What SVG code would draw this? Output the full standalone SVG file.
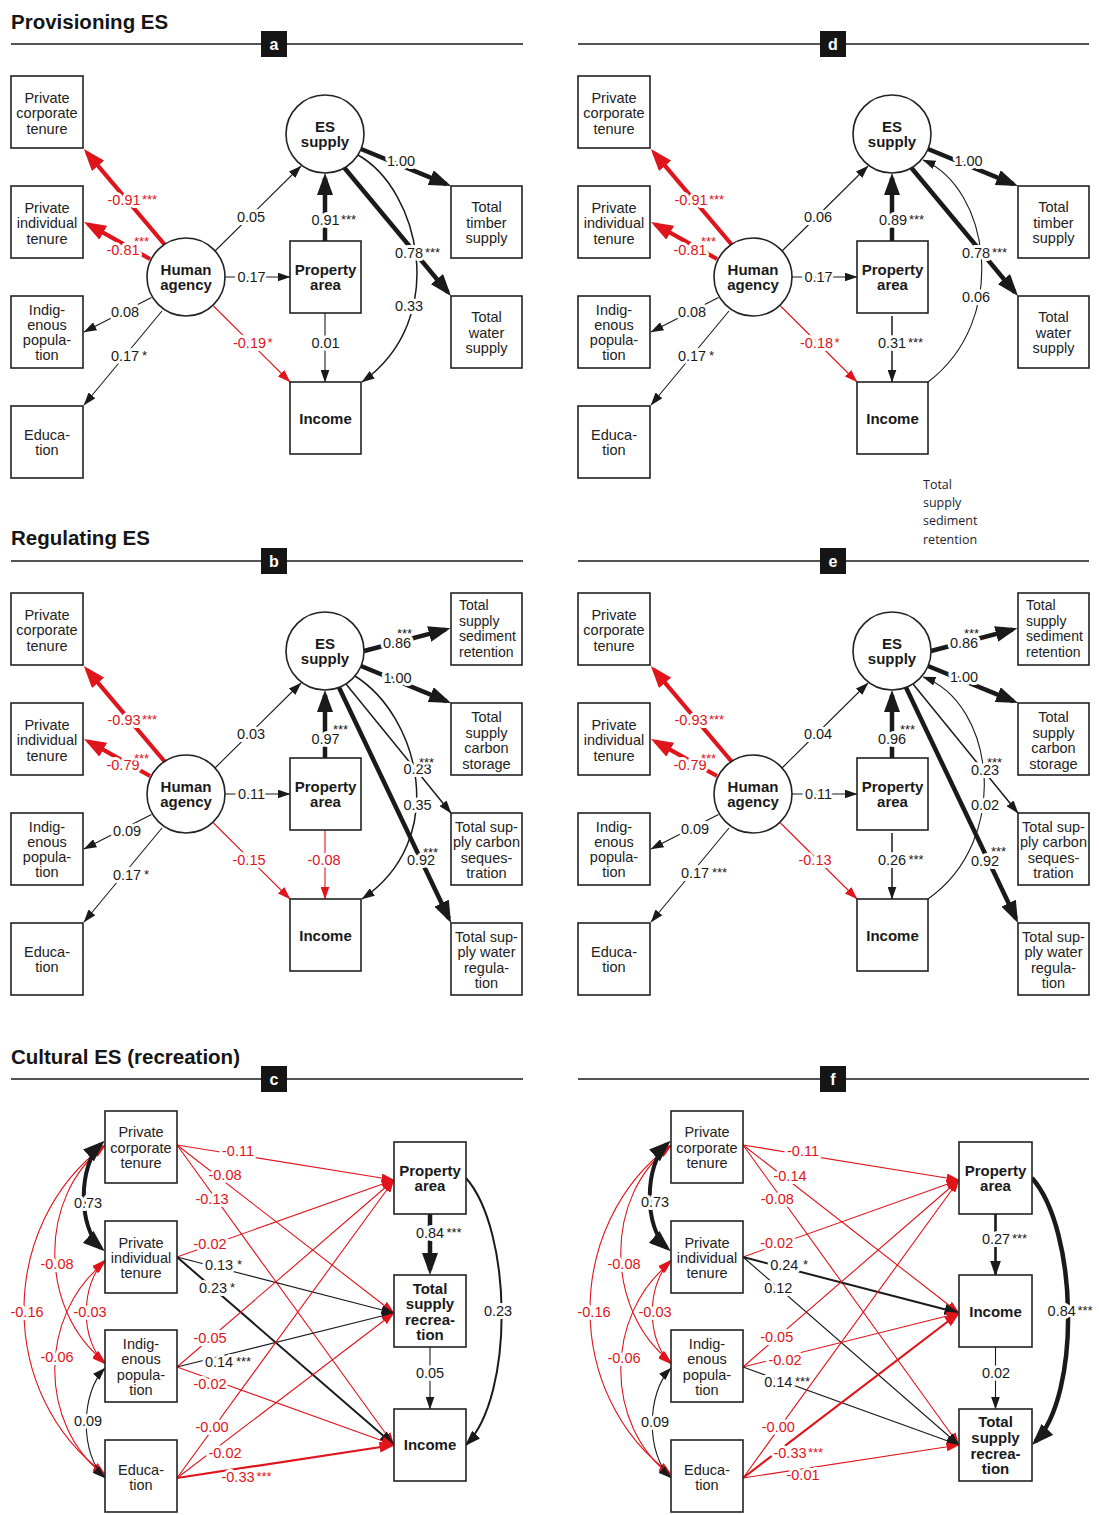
<svg xmlns="http://www.w3.org/2000/svg" width="1099" height="1515" viewBox="0 0 1099 1515">
<defs>
<style>
text{font-family:"Liberation Sans",Arial,Helvetica,sans-serif}
.ttl{font-size:20.5px;font-weight:bold;fill:#151515}
.hl{stroke:#1a1a1a;stroke-width:1.6}
.hb{fill:#151515}
.ht{font-size:16px;font-weight:bold;fill:#fff;text-anchor:middle}
.bx{fill:#fff;stroke:#222;stroke-width:1.6}
.t{font-size:14.5px;fill:#222;text-anchor:middle}
.ts{font-size:14px;fill:#222}
.tb{font-size:15px;font-weight:bold;fill:#1a1a1a;text-anchor:middle}
.l,.lr{font-size:14.5px;text-anchor:middle;stroke:#fff;stroke-width:6;stroke-linejoin:round;paint-order:stroke}
.l{fill:#1a1a1a}
.lr{fill:#e0141b}
.s{font-size:13px;text-anchor:start;stroke-width:4}
.nv{font-family:"Open Sans","Noto Sans",sans-serif;font-size:12.5px;fill:#1c1c2e}
.c1,.c15,.c2,.c25,.c4,.r1,.r2,.r4,.a1,.ar,.a4{fill:none}
.c1{stroke:#1a1a1a;stroke-width:1.1;marker-end:url(#mk1)}
.c15{stroke:#1a1a1a;stroke-width:1.5;marker-end:url(#mk1)}
.c2{stroke:#1a1a1a;stroke-width:2;marker-end:url(#mk2)}
.c25{stroke:#1a1a1a;stroke-width:2.6;marker-end:url(#mk2)}
.c4{stroke:#1a1a1a;stroke-width:4.5;marker-end:url(#mk3)}
.r1{stroke:#e0141b;stroke-width:1.1;marker-end:url(#mr1)}
.r2{stroke:#e0141b;stroke-width:2.2;marker-end:url(#mr2)}
.r4{stroke:#e0141b;stroke-width:4.2;marker-end:url(#mr3)}
.a1{stroke:#1a1a1a;stroke-width:1.1;marker-start:url(#mk1);marker-end:url(#mk1)}
.ar{stroke:#e0141b;stroke-width:1.1;marker-start:url(#mr1);marker-end:url(#mr1)}
.a4{stroke:#1a1a1a;stroke-width:4;marker-start:url(#mk3);marker-end:url(#mk3)}
</style>
<marker id="mk1" markerUnits="userSpaceOnUse" markerWidth="13" markerHeight="9" refX="12.5" refY="4.5" orient="auto-start-reverse"><path d="M0,0L13,4.5L0,9z" fill="#1a1a1a"/></marker>
<marker id="mk2" markerUnits="userSpaceOnUse" markerWidth="16" markerHeight="11" refX="14.5" refY="5.5" orient="auto-start-reverse"><path d="M0,0L16,5.5L0,11z" fill="#1a1a1a"/></marker>
<marker id="mk3" markerUnits="userSpaceOnUse" markerWidth="22" markerHeight="16" refX="17" refY="8" orient="auto-start-reverse"><path d="M0,0L22,8L0,16z" fill="#1a1a1a"/></marker>
<marker id="mr1" markerUnits="userSpaceOnUse" markerWidth="13" markerHeight="9" refX="12.5" refY="4.5" orient="auto-start-reverse"><path d="M0,0L13,4.5L0,9z" fill="#e0141b"/></marker>
<marker id="mr2" markerUnits="userSpaceOnUse" markerWidth="16" markerHeight="11" refX="14.5" refY="5.5" orient="auto-start-reverse"><path d="M0,0L16,5.5L0,11z" fill="#e0141b"/></marker>
<marker id="mr3" markerUnits="userSpaceOnUse" markerWidth="22" markerHeight="16" refX="17" refY="8" orient="auto-start-reverse"><path d="M0,0L22,8L0,16z" fill="#e0141b"/></marker>
</defs>
<rect width="1099" height="1515" fill="#fff"/>

<g id="headers">
<text class="ttl" x="11" y="29">Provisioning ES</text>
<text class="ttl" x="11" y="545">Regulating ES</text>
<text class="ttl" x="11" y="1064">Cultural ES (recreation)</text>
<line class="hl" x1="11" y1="44" x2="523" y2="44"/>
<line class="hl" x1="578" y1="44" x2="1089" y2="44"/>
<line class="hl" x1="11" y1="561" x2="523" y2="561"/>
<line class="hl" x1="578" y1="561" x2="1089" y2="561"/>
<line class="hl" x1="11" y1="1079" x2="523" y2="1079"/>
<line class="hl" x1="578" y1="1079" x2="1089" y2="1079"/>
<rect class="hb" x="261" y="31" width="26" height="26"/><text class="ht" x="274" y="49.5">a</text>
<rect class="hb" x="820" y="31" width="26" height="26"/><text class="ht" x="833" y="49.5">d</text>
<rect class="hb" x="261" y="548" width="26" height="26"/><text class="ht" x="274" y="566.5">b</text>
<rect class="hb" x="820" y="548" width="26" height="26"/><text class="ht" x="833" y="566.5">e</text>
<rect class="hb" x="261" y="1066" width="26" height="26"/><text class="ht" x="274" y="1084.5">c</text>
<rect class="hb" x="820" y="1066" width="26" height="26"/><text class="ht" x="833" y="1084.5">f</text>
</g>

<g id="stray-text">
<text class="nv" x="923" y="488.5">Total</text>
<text class="nv" x="923" y="507">supply</text>
<text class="nv" x="923" y="525.3">sediment</text>
<text class="nv" x="923" y="543.7">retention</text>
</g>

<!-- ================= PANEL A ================= -->
<g id="panel-a">
<g id="a-edges">
<path class="r4" d="M165,245L87.1,152.9"/>
<path class="r4" d="M150,259L88.4,224.4"/>
<path class="c1" d="M215,251L301,166"/>
<path class="c1" d="M225,277L290,277"/>
<path class="c1" d="M151.5,297.5L84,332"/>
<path class="c1" d="M162,311L84,405"/>
<path class="r1" d="M213.5,306L290,382"/>
<path class="c4" d="M325,241L325,178"/>
<path class="c1" d="M325,313L325,382"/>
<path class="c4" d="M361,149L446.4,184.1"/>
<path class="c4" d="M344.5,168L447.8,292.2"/>
<path class="c15" d="M358,155C420,190 450,320 362,382"/>
<text class="lr" x="124" y="205">-0.91</text><text class="lr s" x="142" y="204">***</text>
<text class="lr" x="123" y="255">-0.81</text><text class="lr s" x="134" y="246">***</text>
<text class="l" x="251" y="222">0.05</text>
<text class="l" x="251.5" y="282">0.17</text>
<text class="l" x="125" y="317">0.08</text>
<text class="l" x="125" y="361">0.17</text><text class="l s" x="142" y="360">*</text>
<text class="lr" x="249.5" y="348">-0.19</text><text class="lr s" x="267.5" y="347">*</text>
<text class="l" x="325.5" y="225">0.91</text><text class="l s" x="341" y="224">***</text>
<text class="l" x="325.5" y="348">0.01</text>
<text class="l" x="401" y="166">1.00</text>
<text class="l" x="409" y="258">0.78</text><text class="l s" x="425" y="257">***</text>
<text class="l" x="409" y="311">0.33</text>
</g>
<g id="a-pc"><rect class="bx" x="11" y="76" width="72" height="72"/><text class="t" x="47" y="102.5">Private</text><text class="t" x="47" y="118">corporate</text><text class="t" x="47" y="133.5">tenure</text></g>
<g id="a-pi"><rect class="bx" x="11" y="186" width="72" height="72"/><text class="t" x="47" y="212.5">Private</text><text class="t" x="47" y="228">individual</text><text class="t" x="47" y="243.5">tenure</text></g>
<g id="a-ip"><rect class="bx" x="11" y="296" width="72" height="72"/><text class="t" x="47" y="315">Indig-</text><text class="t" x="47" y="330">enous</text><text class="t" x="47" y="345">popula-</text><text class="t" x="47" y="360">tion</text></g>
<g id="a-ed"><rect class="bx" x="11" y="406" width="72" height="72"/><text class="t" x="47" y="439.5">Educa-</text><text class="t" x="47" y="454.5">tion</text></g>
<g id="a-es"><circle class="bx" cx="325" cy="134" r="39"/><text class="tb" x="325" y="132">ES</text><text class="tb" x="325" y="147">supply</text></g>
<g id="a-ha"><circle class="bx" cx="186" cy="277" r="39"/><text class="tb" x="186" y="274.5">Human</text><text class="tb" x="186" y="289.5">agency</text></g>
<g id="a-pa"><rect class="bx" x="290" y="241" width="71" height="72"/><text class="tb" x="325.5" y="274.5">Property</text><text class="tb" x="325.5" y="289.5">area</text></g>
<g id="a-inc"><rect class="bx" x="290" y="382" width="71" height="72"/><text class="tb" x="325.5" y="423.5">Income</text></g>
<g id="a-tt"><rect class="bx" x="451" y="186" width="71" height="72"/><text class="t" x="486.5" y="212">Total</text><text class="t" x="486.5" y="227.5">timber</text><text class="t" x="486.5" y="243">supply</text></g>
<g id="a-tw"><rect class="bx" x="451" y="296" width="71" height="72"/><text class="t" x="486.5" y="322">Total</text><text class="t" x="486.5" y="337.5">water</text><text class="t" x="486.5" y="353">supply</text></g>
</g>

<!-- ================= PANEL D ================= -->
<g id="panel-d" transform="translate(567,0)">
<g id="d-edges">
<path class="r4" d="M165,245L87.1,152.9"/>
<path class="r4" d="M150,259L88.4,224.4"/>
<path class="c1" d="M215,251L301,166"/>
<path class="c1" d="M225,277L290,277"/>
<path class="c1" d="M151.5,297.5L84,332"/>
<path class="c1" d="M162,311L84,405"/>
<path class="r1" d="M213.5,306L290,382"/>
<path class="c4" d="M325,241L325,178"/>
<path class="c15" d="M325,316L325,382"/>
<path class="c4" d="M361,149L446.4,184.1"/>
<path class="c4" d="M344.5,168L447.8,292.2"/>
<path class="c1" d="M361,382C443,320 423,188 356,160"/>
<text class="lr" x="124" y="205">-0.91</text><text class="lr s" x="142" y="204">***</text>
<text class="lr" x="123" y="255">-0.81</text><text class="lr s" x="134" y="246">***</text>
<text class="l" x="251" y="222">0.06</text>
<text class="l" x="251.5" y="282">0.17</text>
<text class="l" x="125" y="317">0.08</text>
<text class="l" x="125" y="361">0.17</text><text class="l s" x="142" y="360">*</text>
<text class="lr" x="249.5" y="348">-0.18</text><text class="lr s" x="267.5" y="347">*</text>
<text class="l" x="326" y="225">0.89</text><text class="l s" x="342" y="224">***</text>
<text class="l" x="325" y="348">0.31</text><text class="l s" x="341" y="347">***</text>
<text class="l" x="401.5" y="166">1.00</text>
<text class="l" x="409" y="258">0.78</text><text class="l s" x="425" y="257">***</text>
<text class="l" x="409" y="301.7">0.06</text>
</g>
<g id="d-pc"><rect class="bx" x="11" y="76" width="72" height="72"/><text class="t" x="47" y="102.5">Private</text><text class="t" x="47" y="118">corporate</text><text class="t" x="47" y="133.5">tenure</text></g>
<g id="d-pi"><rect class="bx" x="11" y="186" width="72" height="72"/><text class="t" x="47" y="212.5">Private</text><text class="t" x="47" y="228">individual</text><text class="t" x="47" y="243.5">tenure</text></g>
<g id="d-ip"><rect class="bx" x="11" y="296" width="72" height="72"/><text class="t" x="47" y="315">Indig-</text><text class="t" x="47" y="330">enous</text><text class="t" x="47" y="345">popula-</text><text class="t" x="47" y="360">tion</text></g>
<g id="d-ed"><rect class="bx" x="11" y="406" width="72" height="72"/><text class="t" x="47" y="439.5">Educa-</text><text class="t" x="47" y="454.5">tion</text></g>
<g id="d-es"><circle class="bx" cx="325" cy="134" r="39"/><text class="tb" x="325" y="132">ES</text><text class="tb" x="325" y="147">supply</text></g>
<g id="d-ha"><circle class="bx" cx="186" cy="277" r="39"/><text class="tb" x="186" y="274.5">Human</text><text class="tb" x="186" y="289.5">agency</text></g>
<g id="d-pa"><rect class="bx" x="290" y="241" width="71" height="72"/><text class="tb" x="325.5" y="274.5">Property</text><text class="tb" x="325.5" y="289.5">area</text></g>
<g id="d-inc"><rect class="bx" x="290" y="382" width="71" height="72"/><text class="tb" x="325.5" y="423.5">Income</text></g>
<g id="d-tt"><rect class="bx" x="451" y="186" width="71" height="72"/><text class="t" x="486.5" y="212">Total</text><text class="t" x="486.5" y="227.5">timber</text><text class="t" x="486.5" y="243">supply</text></g>
<g id="d-tw"><rect class="bx" x="451" y="296" width="71" height="72"/><text class="t" x="486.5" y="322">Total</text><text class="t" x="486.5" y="337.5">water</text><text class="t" x="486.5" y="353">supply</text></g>
</g>

<!-- ================= PANEL B ================= -->
<g id="panel-b" transform="translate(0,517)">
<g id="b-edges">
<path class="r4" d="M165,245L87.1,152.9"/>
<path class="r4" d="M150,259L88.4,224.4"/>
<path class="c1" d="M215,251L301,166"/>
<path class="c1" d="M225,277L290,277"/>
<path class="c1" d="M151.5,297.5L84,332"/>
<path class="c1" d="M162,311L84,405"/>
<path class="r1" d="M213.5,306L290,382"/>
<path class="c4" d="M325,241L325,178"/>
<path class="r1" d="M325,313L325,382"/>
<path class="c4" d="M364,134L445.6,112.6"/>
<path class="c4" d="M361,149L446.4,184.1"/>
<path class="c15" d="M346,167L451,296"/>
<path class="c4" d="M339,170.5L448.9,401.5"/>
<path class="c15" d="M355,159C420,200 450,323 362,382"/>
<text class="lr" x="124" y="208">-0.93</text><text class="lr s" x="142" y="207">***</text>
<text class="lr" x="123" y="253">-0.79</text><text class="lr s" x="134" y="245.6">***</text>
<text class="l" x="251" y="222">0.03</text>
<text class="l" x="251.5" y="282">0.11</text>
<text class="l" x="127" y="318.5">0.09</text>
<text class="l" x="127" y="363">0.17</text><text class="l s" x="144" y="362">*</text>
<text class="lr" x="249" y="348">-0.15</text>
<text class="l" x="325.5" y="227">0.97</text><text class="l s" x="333" y="217.3">***</text>
<text class="lr" x="324" y="348">-0.08</text>
<text class="l" x="397" y="131">0.86</text><text class="l s" x="397" y="120.6">***</text>
<text class="l" x="397.5" y="166">1.00</text>
<text class="l" x="417.5" y="257">0.23</text><text class="l s" x="419" y="249.6">***</text>
<text class="l" x="417.5" y="293">0.35</text>
<text class="l" x="421" y="348">0.92</text><text class="l s" x="423" y="339.6">***</text>
</g>
<g id="b-pc"><rect class="bx" x="11" y="76" width="72" height="72"/><text class="t" x="47" y="102.5">Private</text><text class="t" x="47" y="118">corporate</text><text class="t" x="47" y="133.5">tenure</text></g>
<g id="b-pi"><rect class="bx" x="11" y="186" width="72" height="72"/><text class="t" x="47" y="212.5">Private</text><text class="t" x="47" y="228">individual</text><text class="t" x="47" y="243.5">tenure</text></g>
<g id="b-ip"><rect class="bx" x="11" y="296" width="72" height="72"/><text class="t" x="47" y="315">Indig-</text><text class="t" x="47" y="330">enous</text><text class="t" x="47" y="345">popula-</text><text class="t" x="47" y="360">tion</text></g>
<g id="b-ed"><rect class="bx" x="11" y="406" width="72" height="72"/><text class="t" x="47" y="439.5">Educa-</text><text class="t" x="47" y="454.5">tion</text></g>
<g id="b-es"><circle class="bx" cx="325" cy="134" r="39"/><text class="tb" x="325" y="132">ES</text><text class="tb" x="325" y="147">supply</text></g>
<g id="b-ha"><circle class="bx" cx="186" cy="277" r="39"/><text class="tb" x="186" y="274.5">Human</text><text class="tb" x="186" y="289.5">agency</text></g>
<g id="b-pa"><rect class="bx" x="290" y="241" width="71" height="72"/><text class="tb" x="325.5" y="274.5">Property</text><text class="tb" x="325.5" y="289.5">area</text></g>
<g id="b-inc"><rect class="bx" x="290" y="382" width="71" height="72"/><text class="tb" x="325.5" y="423.5">Income</text></g>
<g id="b-sed"><rect class="bx" x="451" y="76" width="71" height="72"/><text class="ts" x="459" y="93">Total</text><text class="ts" x="459" y="108.5">supply</text><text class="ts" x="459" y="124">sediment</text><text class="ts" x="459" y="139.5">retention</text></g>
<g id="b-cs"><rect class="bx" x="451" y="186" width="71" height="72"/><text class="t" x="486.5" y="205">Total</text><text class="t" x="486.5" y="220.5">supply</text><text class="t" x="486.5" y="236">carbon</text><text class="t" x="486.5" y="251.5">storage</text></g>
<g id="b-seq"><rect class="bx" x="451" y="296" width="71" height="72"/><text class="t" x="486.5" y="315">Total sup-</text><text class="t" x="486.5" y="330">ply carbon</text><text class="t" x="486.5" y="345.5">seques-</text><text class="t" x="486.5" y="360.5">tration</text></g>
<g id="b-wr"><rect class="bx" x="451" y="406" width="71" height="72"/><text class="t" x="486.5" y="425">Total sup-</text><text class="t" x="486.5" y="440">ply water</text><text class="t" x="486.5" y="455.5">regula-</text><text class="t" x="486.5" y="470.5">tion</text></g>
</g>

<!-- ================= PANEL E ================= -->
<g id="panel-e" transform="translate(567,517)">
<g id="e-edges">
<path class="r4" d="M165,245L87.1,152.9"/>
<path class="r4" d="M150,259L88.4,224.4"/>
<path class="c1" d="M215,251L301,166"/>
<path class="c1" d="M225,277L290,277"/>
<path class="c1" d="M151.5,297.5L84,332"/>
<path class="c1" d="M162,311L84,405"/>
<path class="r1" d="M213.5,306L290,382"/>
<path class="c4" d="M325,241L325,178"/>
<path class="c15" d="M325,316L325,382"/>
<path class="c4" d="M364,134L445.6,112.6"/>
<path class="c4" d="M361,149L446.4,184.1"/>
<path class="c15" d="M346,167L451,296"/>
<path class="c4" d="M339,170.5L448.9,401.5"/>
<path class="c1" d="M361,382C445,323 428,186 356,160"/>
<text class="lr" x="124" y="208">-0.93</text><text class="lr s" x="142" y="207">***</text>
<text class="lr" x="123" y="253">-0.79</text><text class="lr s" x="134" y="245.6">***</text>
<text class="l" x="251" y="222">0.04</text>
<text class="l" x="251.5" y="282">0.11</text>
<text class="l" x="128" y="317.3">0.09</text>
<text class="l" x="128" y="361.3">0.17</text><text class="l s" x="145" y="360.3">***</text>
<text class="lr" x="248" y="348">-0.13</text>
<text class="l" x="325" y="227.3">0.96</text><text class="l s" x="333" y="217.3">***</text>
<text class="l" x="325" y="348">0.26</text><text class="l s" x="341.5" y="347">***</text>
<text class="l" x="397" y="130.7">0.86</text><text class="l s" x="397" y="120.6">***</text>
<text class="l" x="397" y="164.7">1.00</text>
<text class="l" x="418" y="258">0.23</text><text class="l s" x="420" y="250">***</text>
<text class="l" x="418" y="293">0.02</text>
<text class="l" x="418" y="348.7">0.92</text><text class="l s" x="424" y="338.6">***</text>
</g>
<g id="e-pc"><rect class="bx" x="11" y="76" width="72" height="72"/><text class="t" x="47" y="102.5">Private</text><text class="t" x="47" y="118">corporate</text><text class="t" x="47" y="133.5">tenure</text></g>
<g id="e-pi"><rect class="bx" x="11" y="186" width="72" height="72"/><text class="t" x="47" y="212.5">Private</text><text class="t" x="47" y="228">individual</text><text class="t" x="47" y="243.5">tenure</text></g>
<g id="e-ip"><rect class="bx" x="11" y="296" width="72" height="72"/><text class="t" x="47" y="315">Indig-</text><text class="t" x="47" y="330">enous</text><text class="t" x="47" y="345">popula-</text><text class="t" x="47" y="360">tion</text></g>
<g id="e-ed"><rect class="bx" x="11" y="406" width="72" height="72"/><text class="t" x="47" y="439.5">Educa-</text><text class="t" x="47" y="454.5">tion</text></g>
<g id="e-es"><circle class="bx" cx="325" cy="134" r="39"/><text class="tb" x="325" y="132">ES</text><text class="tb" x="325" y="147">supply</text></g>
<g id="e-ha"><circle class="bx" cx="186" cy="277" r="39"/><text class="tb" x="186" y="274.5">Human</text><text class="tb" x="186" y="289.5">agency</text></g>
<g id="e-pa"><rect class="bx" x="290" y="241" width="71" height="72"/><text class="tb" x="325.5" y="274.5">Property</text><text class="tb" x="325.5" y="289.5">area</text></g>
<g id="e-inc"><rect class="bx" x="290" y="382" width="71" height="72"/><text class="tb" x="325.5" y="423.5">Income</text></g>
<g id="e-sed"><rect class="bx" x="451" y="76" width="71" height="72"/><text class="ts" x="459" y="93">Total</text><text class="ts" x="459" y="108.5">supply</text><text class="ts" x="459" y="124">sediment</text><text class="ts" x="459" y="139.5">retention</text></g>
<g id="e-cs"><rect class="bx" x="451" y="186" width="71" height="72"/><text class="t" x="486.5" y="205">Total</text><text class="t" x="486.5" y="220.5">supply</text><text class="t" x="486.5" y="236">carbon</text><text class="t" x="486.5" y="251.5">storage</text></g>
<g id="e-seq"><rect class="bx" x="451" y="296" width="71" height="72"/><text class="t" x="486.5" y="315">Total sup-</text><text class="t" x="486.5" y="330">ply carbon</text><text class="t" x="486.5" y="345.5">seques-</text><text class="t" x="486.5" y="360.5">tration</text></g>
<g id="e-wr"><rect class="bx" x="451" y="406" width="71" height="72"/><text class="t" x="486.5" y="425">Total sup-</text><text class="t" x="486.5" y="440">ply water</text><text class="t" x="486.5" y="455.5">regula-</text><text class="t" x="486.5" y="470.5">tion</text></g>
</g>

<!-- ================= PANEL C ================= -->
<g id="panel-c">
<g id="c-edges">
<path class="ar" d="M105,1146C38,1195 38,1310 105,1362"/>
<path class="ar" d="M105,1145C-3,1225 -3,1395 105,1474"/>
<path class="ar" d="M105,1260C80,1285 80,1340 105,1364"/>
<path class="ar" d="M105,1262C38,1315 38,1425 105,1476"/>
<path class="a1" d="M105,1368C80,1393 80,1455 105,1478"/>
<path class="a4" d="M101,1144C78,1165 78,1228 101,1248"/>
<path class="r1" d="M177,1145L394,1180"/>
<path class="r1" d="M177,1145L394,1313"/>
<path class="r1" d="M177,1145L394,1445"/>
<path class="r1" d="M177,1257L394,1180"/>
<path class="c1" d="M177,1257L394,1313"/>
<path class="c2" d="M177,1257L394,1445"/>
<path class="r1" d="M177,1367L394,1180"/>
<path class="c1" d="M177,1367L394,1313"/>
<path class="r1" d="M177,1367L394,1445"/>
<path class="r1" d="M177,1478L394,1180"/>
<path class="r1" d="M177,1478L394,1313"/>
<path class="r2" d="M177,1478L394,1445"/>
<path class="c4" d="M430,1214L430,1270"/>
<path class="c1" d="M430,1347L430,1409"/>
<path class="c2" d="M466,1178C512,1230 515,1395 466,1445"/>
<text class="l" x="88" y="1208">0.73</text>
<text class="lr" x="57" y="1269">-0.08</text>
<text class="lr" x="27" y="1317">-0.16</text>
<text class="lr" x="90" y="1317">-0.03</text>
<text class="lr" x="57" y="1362">-0.06</text>
<text class="l" x="88" y="1426">0.09</text>
<text class="lr" x="238" y="1156">-0.11</text>
<text class="lr" x="225" y="1180">-0.08</text>
<text class="lr" x="212" y="1204">-0.13</text>
<text class="lr" x="210" y="1249">-0.02</text>
<text class="l" x="219" y="1270">0.13</text><text class="l s" x="237" y="1269">*</text>
<text class="l" x="213" y="1293">0.23</text><text class="l s" x="230" y="1292">*</text>
<text class="lr" x="210" y="1343">-0.05</text>
<text class="l" x="219" y="1367">0.14</text><text class="l s" x="236" y="1366">***</text>
<text class="lr" x="210" y="1389">-0.02</text>
<text class="lr" x="212" y="1432">-0.00</text>
<text class="lr" x="225" y="1458">-0.02</text>
<text class="lr" x="238" y="1482">-0.33</text><text class="lr s" x="256.5" y="1481">***</text>
<text class="l" x="430" y="1238">0.84</text><text class="l s" x="446.5" y="1237">***</text>
<text class="l" x="430" y="1378">0.05</text>
<text class="l" x="498" y="1316">0.23</text>
</g>
<g id="c-pc"><rect class="bx" x="105" y="1111" width="72" height="72"/><text class="t" x="141" y="1137">Private</text><text class="t" x="141" y="1152.5">corporate</text><text class="t" x="141" y="1168">tenure</text></g>
<g id="c-pi"><rect class="bx" x="105" y="1221" width="72" height="72"/><text class="t" x="141" y="1247.5">Private</text><text class="t" x="141" y="1262.5">individual</text><text class="t" x="141" y="1277.5">tenure</text></g>
<g id="c-ip"><rect class="bx" x="105" y="1330" width="72" height="72"/><text class="t" x="141" y="1348.5">Indig-</text><text class="t" x="141" y="1364">enous</text><text class="t" x="141" y="1379.5">popula-</text><text class="t" x="141" y="1394.5">tion</text></g>
<g id="c-ed"><rect class="bx" x="105" y="1440" width="72" height="72"/><text class="t" x="141" y="1475">Educa-</text><text class="t" x="141" y="1490">tion</text></g>
<g id="c-pa"><rect class="bx" x="394" y="1142" width="72" height="72"/><text class="tb" x="430" y="1176.4">Property</text><text class="tb" x="430" y="1191.4">area</text></g>
<g id="c-tsr"><rect class="bx" x="394" y="1275" width="72" height="72"/><text class="tb" x="430" y="1294.4">Total</text><text class="tb" x="430" y="1309.4">supply</text><text class="tb" x="430" y="1324.7">recrea-</text><text class="tb" x="430" y="1339.7">tion</text></g>
<g id="c-inc"><rect class="bx" x="394" y="1409" width="72" height="72"/><text class="tb" x="430" y="1450.4">Income</text></g>
</g>

<!-- ================= PANEL F ================= -->
<g id="panel-f" transform="translate(566,0)">
<g id="f-edges">
<path class="ar" d="M105,1146C38,1195 38,1310 105,1362"/>
<path class="ar" d="M105,1145C-3,1225 -3,1395 105,1474"/>
<path class="ar" d="M105,1260C80,1285 80,1340 105,1364"/>
<path class="ar" d="M105,1262C38,1315 38,1425 105,1476"/>
<path class="a1" d="M105,1368C80,1393 80,1455 105,1478"/>
<path class="a4" d="M101,1144C78,1165 78,1228 101,1248"/>
<path class="r1" d="M177,1145L393,1180"/>
<path class="r1" d="M177,1145L393,1313"/>
<path class="r1" d="M177,1145L393,1445"/>
<path class="r1" d="M177,1257L393,1180"/>
<path class="c2" d="M177,1257L393,1313"/>
<path class="c1" d="M177,1257L393,1445"/>
<path class="r1" d="M177,1367L393,1180"/>
<path class="r1" d="M177,1367L393,1313"/>
<path class="c1" d="M177,1367L393,1445"/>
<path class="r1" d="M177,1478L393,1180"/>
<path class="r2" d="M177,1478L393,1313"/>
<path class="r1" d="M177,1478L393,1445"/>
<path class="c25" d="M429.5,1214L429.5,1275"/>
<path class="c1" d="M429.5,1347L429.5,1409"/>
<path class="c4" d="M466,1178C512,1230 515,1395 469.5,1441.5"/>
<text class="l" x="89" y="1207">0.73</text>
<text class="lr" x="58" y="1269">-0.08</text>
<text class="lr" x="28" y="1316.7">-0.16</text>
<text class="lr" x="89" y="1316.7">-0.03</text>
<text class="lr" x="58" y="1363">-0.06</text>
<text class="l" x="89" y="1426.7">0.09</text>
<text class="lr" x="237" y="1155.7">-0.11</text>
<text class="lr" x="224" y="1180.7">-0.14</text>
<text class="lr" x="211.3" y="1204">-0.08</text>
<text class="lr" x="210.7" y="1247.7">-0.02</text>
<text class="l" x="218.3" y="1270">0.24</text><text class="l s" x="237" y="1269">*</text>
<text class="l" x="212.3" y="1293">0.12</text>
<text class="lr" x="210.7" y="1342">-0.05</text>
<text class="lr" x="219" y="1365">-0.02</text>
<text class="l" x="212.3" y="1386.7">0.14</text><text class="l s" x="229" y="1385.7">***</text>
<text class="lr" x="212.3" y="1432">-0.00</text>
<text class="lr" x="224" y="1457.7">-0.33</text><text class="lr s" x="242" y="1456.7">***</text>
<text class="lr" x="237" y="1480">-0.01</text>
<text class="l" x="430" y="1244.3">0.27</text><text class="l s" x="446" y="1243.3">***</text>
<text class="l" x="430" y="1377.7">0.02</text>
<text class="l" x="495.7" y="1316">0.84</text><text class="l s" x="511.5" y="1315">***</text>
</g>
<g id="f-pc"><rect class="bx" x="105" y="1111" width="72" height="72"/><text class="t" x="141" y="1137">Private</text><text class="t" x="141" y="1152.5">corporate</text><text class="t" x="141" y="1168">tenure</text></g>
<g id="f-pi"><rect class="bx" x="105" y="1221" width="72" height="72"/><text class="t" x="141" y="1247.5">Private</text><text class="t" x="141" y="1262.5">individual</text><text class="t" x="141" y="1277.5">tenure</text></g>
<g id="f-ip"><rect class="bx" x="105" y="1330" width="72" height="72"/><text class="t" x="141" y="1348.5">Indig-</text><text class="t" x="141" y="1364">enous</text><text class="t" x="141" y="1379.5">popula-</text><text class="t" x="141" y="1394.5">tion</text></g>
<g id="f-ed"><rect class="bx" x="105" y="1440" width="72" height="72"/><text class="t" x="141" y="1475">Educa-</text><text class="t" x="141" y="1490">tion</text></g>
<g id="f-pa"><rect class="bx" x="393" y="1142" width="73" height="72"/><text class="tb" x="429.5" y="1176.4">Property</text><text class="tb" x="429.5" y="1191.4">area</text></g>
<g id="f-inc"><rect class="bx" x="393" y="1275" width="73" height="72"/><text class="tb" x="429.5" y="1317">Income</text></g>
<g id="f-tsr"><rect class="bx" x="393" y="1409" width="73" height="72"/><text class="tb" x="429.5" y="1427">Total</text><text class="tb" x="429.5" y="1443">supply</text><text class="tb" x="429.5" y="1458.5">recrea-</text><text class="tb" x="429.5" y="1474">tion</text></g>
</g>
</svg>
